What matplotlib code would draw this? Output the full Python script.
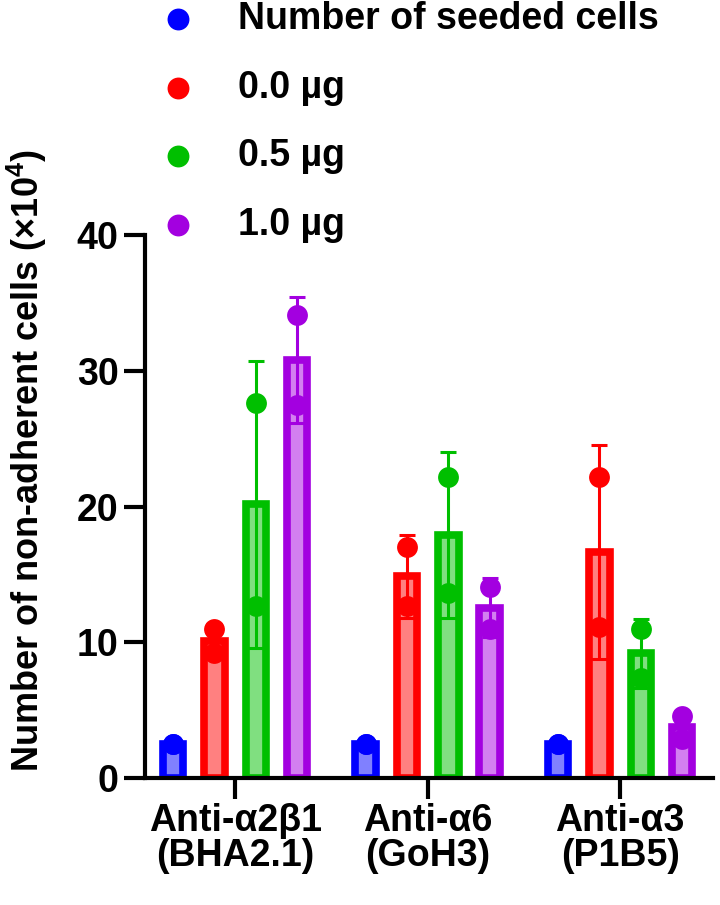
import matplotlib
matplotlib.use("Agg")
import matplotlib.pyplot as plt
import numpy as np

plt.rcParams['font.family'] = ['Liberation Sans', 'DejaVu Sans']
plt.rcParams['font.weight'] = 'bold'
plt.rcParams['mathtext.fontset'] = 'custom'
plt.rcParams['mathtext.rm'] = 'Liberation Sans:bold'
plt.rcParams['mathtext.it'] = 'Liberation Sans:bold'
plt.rcParams['mathtext.bf'] = 'Liberation Sans:bold'

# ---- data ----
groups = ["Anti-\u03b12\u03b21\n(BHA2.1)", "Anti-\u03b16\n(GoH3)", "Anti-\u03b13\n(P1B5)"]
series = ["Number of seeded cells", "0.0 \u00b5g", "0.5 \u00b5g", "1.0 \u00b5g"]
colors = ["#0000FF", "#FF0000", "#00BF00", "#A300E0"]
light = ["#8080FF", "#FF8080", "#80DF80", "#D37FF0"]

# replicate values per group (x10^4 cells)
seeded = [[2.5, 2.5], [2.5, 2.5], [2.5, 2.5]]
ug00 = [[11.0, 9.2], [17.0, 12.7], [22.2, 11.1]]
ug05 = [[27.6, 12.7], [22.2, 13.6], [11.0, 7.4]]
ug10 = [[34.1, 27.5], [14.1, 11.0], [4.6, 2.9]]
all_series = [seeded, ug00, ug05, ug10]

yticks = [0, 10, 20, 30, 40]

FS = 27

# ---- figure ----
fig = plt.figure(figsize=(7.2, 9.05), dpi=100)
ax = fig.add_axes([0.2014, 0.1403, 0.789, 0.600])

xg = np.arange(len(groups))
offsets = [-0.322, -0.108, 0.108, 0.322]
bw = 0.106
handles = []
for si, (vals, off) in enumerate(zip(all_series, offsets)):
    arr = np.array(vals, dtype=float)
    means = arr.mean(axis=1)
    sds = arr.std(axis=1, ddof=1)
    x = xg + off
    ax.bar(x, means, width=bw, color=light[si], edgecolor=colors[si],
           linewidth=5.5, zorder=2)
    ax.errorbar(x, means, yerr=sds, fmt='none', ecolor=colors[si],
                elinewidth=2.2, capsize=6, capthick=2.2, zorder=3)
    xs = np.repeat(x, arr.shape[1])
    h = ax.scatter(xs, arr.ravel(), s=15**2, color=colors[si], zorder=4,
                   linewidths=0, label=series[si])
    handles.append(h)

ax.set_xlim(-0.468, 2.483)
ax.set_ylim(0, 40)
ax.set_yticks(yticks)
ax.set_xticks(xg)
ax.set_xticklabels(groups, fontsize=FS, fontweight='bold', linespacing=0.95)
ax.tick_params(axis='y', labelsize=FS, width=3, length=15, pad=4)
ax.tick_params(axis='x', width=3, length=15, pad=3)
for lab in ax.get_yticklabels():
    lab.set_fontweight('bold')
for s in ['top', 'right']:
    ax.spines[s].set_visible(False)
for s in ['left', 'bottom']:
    ax.spines[s].set_linewidth(3)
ax.spines['left'].set_bounds(0, 40)

ax.set_ylabel("Number of non-adherent cells (\u00d710$^4$)", fontsize=26,
              fontweight='bold')
ax.yaxis.set_label_coords(-0.169, 0.585)

leg = fig.legend(handles=handles, labels=series, loc='upper left',
                 bbox_to_anchor=(0.2205, 0.999), frameon=False, fontsize=FS,
                 labelspacing=0.87, handlelength=1.0, handletextpad=1.12,
                 markerscale=1.05, borderaxespad=0, borderpad=0)
for t in leg.get_texts():
    t.set_fontweight('bold')

fig.savefig("out.png", dpi=100)
